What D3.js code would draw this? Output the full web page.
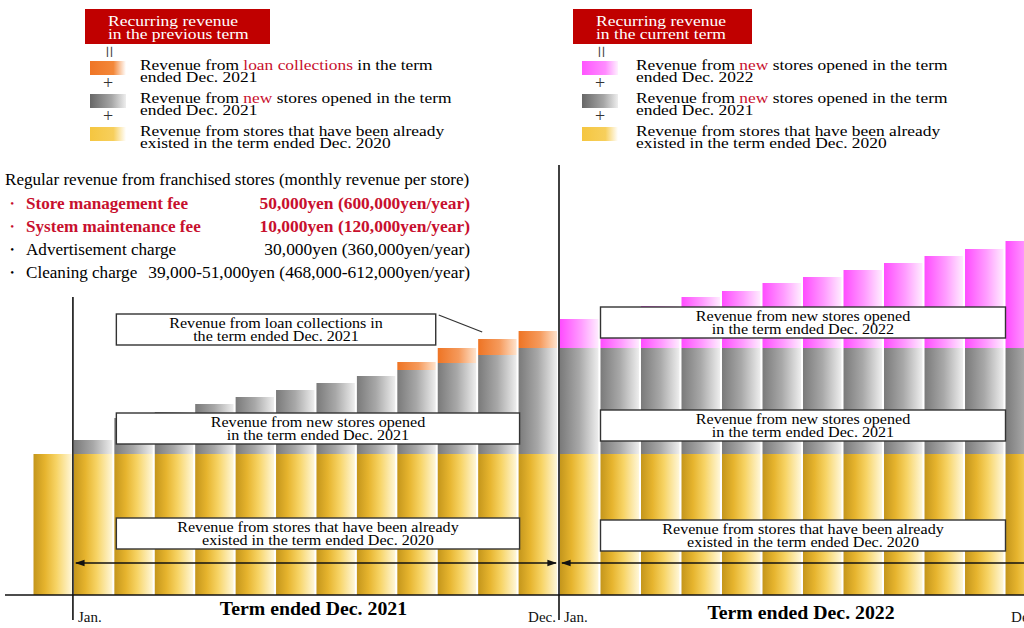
<!DOCTYPE html>
<html><head><meta charset="utf-8">
<script src="https://cdn.jsdelivr.net/npm/d3@7"></script>
<style>
html,body{margin:0;padding:0;background:#fff;}
svg text{font-family:"Liberation Serif","Times New Roman",serif;}
</style></head>
<body><svg id="chart" width="1024" height="628"></svg>
<script>
// ---------------- DATA (arbitrary revenue units) ----------------
const months = ["Jan.","Feb.","Mar.","Apr.","May","Jun.","Jul.","Aug.","Sep.","Oct.","Nov.","Dec."];
const prevLabel = "Dec. 2020";
const existingDec2020 = 141;
const existing2021 = [141,141,141,141,141,141,141,141,141,141,141,141];
const new2021 = [14,36,42,50,57,64,71,78,84,91,99,106];
const loan2021 = [0,0,0,0,0,0,0,0,8,15,16,17];
const existing2022 = [141,141,141,141,141,141,141,141,141,141,141,141];
const new2021in2022 = [106,106,106,106,106,106,106,106,106,106,106,106];
const new2022 = [29,36,42,51,57,65,71,78,85,92,99,107];
const tickLabels = ["Jan.","Dec."];
const termLabels = ["Term ended Dec. 2021","Term ended Dec. 2022"];
const feeNames = ["Store management fee","System maintenance fee","Advertisement charge","Cleaning charge"];
const feeValues = ["50,000yen (600,000yen/year)","10,000yen (120,000yen/year)","30,000yen (360,000yen/year)","39,000-51,000yen (468,000-612,000yen/year)"];
const feeBold = [true,true,false,false];

const svg = d3.select("#chart");
const defs = svg.append("defs");
function grad(id, stops){
  const g = defs.append("linearGradient").attr("id",id).attr("x1","0").attr("x2","1").attr("y1","0").attr("y2","0");
  stops.forEach(s=>g.append("stop").attr("offset",s[0]).attr("stop-color",s[1]));
}
grad("gYellow",[["0%","#c4961c"],["30%","#e6b42e"],["60%","#f7d466"],["100%","#fff7d8"]]);
grad("gGray",[["0%","#7a7a7a"],["50%","#a8a8a8"],["100%","#eeeeee"]]);
grad("gOrange",[["0%","#ee7424"],["55%","#f59a5c"],["100%","#ffe3cc"]]);
grad("gPink",[["0%","#ff4cff"],["55%","#ff9cff"],["100%","#ffecff"]]);
grad("sOrange",[["0%","#ef7526"],["65%","#f3883a"],["100%","#ffffff"]]);
grad("sGray",[["0%","#676767"],["60%","#a6a6a6"],["100%","#eeeeee"]]);
grad("sYellow",[["0%","#f5c640"],["65%","#f7cf5c"],["100%","#ffffff"]]);
grad("sPink",[["0%","#ff55ff"],["65%","#ff8cff"],["100%","#fff0ff"]]);

const colorOf = {existing:"url(#gYellow)", newPrev:"url(#gGray)", loan:"url(#gOrange)", newCur:"url(#gPink)"};

// text helper with horizontal stretch (reference font is wider than Times)
function txt(x, yy, str, o){
  o = o||{};
  const sx = o.sx||1.1;
  const t = svg.append("text")
    .attr("transform",`translate(${x},${yy}) scale(${sx},1)`)
    .attr("font-size",o.size||15)
    .attr("fill",o.fill||"#000")
    .attr("text-anchor",o.anchor||"start");
  if(o.bold) t.attr("font-weight","bold");
  if(Array.isArray(str)) str.forEach(p=>t.append("tspan").attr("fill",p[1]||o.fill||"#000").text(p[0]));
  else t.text(str);
  return t;
}

// ---------------- SCALES ----------------
const y = d3.scaleLinear().domain([0,360]).range([595,235]);
const x1 = d3.scaleBand().domain([prevLabel, ...months]).range([33.5,557]).paddingInner(0.05);
const x2 = d3.scaleBand().domain(months).range([560,1044]).paddingInner(0.05);

// ---------------- STACKED BARS ----------------
const rows1 = [{m:prevLabel, existing:existingDec2020, newPrev:0, loan:0}]
  .concat(months.map((m,i)=>({m, existing:existing2021[i], newPrev:new2021[i], loan:loan2021[i]})));
const rows2 = months.map((m,i)=>({m, existing:existing2022[i], newPrev:new2021in2022[i], newCur:new2022[i]}));

function drawStack(rows, keys, xs){
  const series = d3.stack().keys(keys)(rows);
  const g = svg.append("g");
  series.forEach(s=>{
    g.selectAll(null).data(s.filter(d=>d[1]-d[0]>0)).join("rect")
      .attr("x", d=>xs(d.data.m))
      .attr("width", xs.bandwidth())
      .attr("y", d=>y(d[1]))
      .attr("height", d=>y(d[0])-y(d[1]))
      .attr("fill", colorOf[s.key]);
  });
}
drawStack(rows1, ["existing","newPrev","loan"], x1);
drawStack(rows2, ["existing","newPrev","newCur"], x2);

// ---------------- AXES / DIVIDERS ----------------
svg.append("line").attr("x1",5).attr("x2",1024).attr("y1",y(0)).attr("y2",y(0))
  .attr("stroke","#111").attr("stroke-width",1.6);
const div1 = x1("Jan.")-1, div2 = x2("Jan.")-1;
svg.append("line").attr("x1",div1).attr("x2",div1).attr("y1",297).attr("y2",620).attr("stroke","#111").attr("stroke-width",1.6);
svg.append("line").attr("x1",div2).attr("x2",div2).attr("y1",165).attr("y2",620).attr("stroke","#111").attr("stroke-width",1.6);

function monthAxis(xs, decShift){
  const ax = svg.append("g").attr("transform",`translate(0,${y(0)})`)
    .call(d3.axisBottom(xs).tickValues(tickLabels).tickSize(0).tickPadding(0));
  ax.select(".domain").remove();
  ax.selectAll("text").attr("font-family","Liberation Serif, serif").attr("font-size",15).attr("fill","#111")
    .attr("dy",0).attr("y",27)
    .attr("text-anchor", d=> d==="Jan." ? "start":"end")
    .attr("x", d=> d==="Jan." ? -xs.bandwidth()/2+4 : xs.bandwidth()/2-1+decShift);
}
monthAxis(x1, 0);
monthAxis(x2, -4);

txt((x1("Jan.")+x1("Dec.")+x1.bandwidth())/2-2, 615, termLabels[0], {size:18, bold:true, anchor:"middle", sx:1.1});
txt((x2("Jan.")+x2("Dec.")+x2.bandwidth())/2-1, 619, termLabels[1], {size:18, bold:true, anchor:"middle", sx:1.1});

// arrows
const mk = defs.append("marker").attr("id","ah").attr("viewBox","0 0 10 10").attr("refX",9).attr("refY",5)
  .attr("markerWidth",6).attr("markerHeight",6).attr("orient","auto-start-reverse");
mk.append("path").attr("d","M0,1.5L10,5L0,8.5Z").attr("fill","#111");
svg.append("line").attr("x1",x1("Jan.")+2).attr("x2",x1("Dec.")+x1.bandwidth()-1).attr("y1",563).attr("y2",563)
  .attr("stroke","#111").attr("stroke-width",1.6).attr("marker-start","url(#ah)").attr("marker-end","url(#ah)");
svg.append("line").attr("x1",x2("Jan.")+2).attr("x2",x2("Dec.")+x2.bandwidth()).attr("y1",563).attr("y2",563)
  .attr("stroke","#111").attr("stroke-width",1.6).attr("marker-start","url(#ah)").attr("marker-end","url(#ah)");

// ---------------- ANNOTATION BOXES ----------------
function noteBox(xa, xb, yt, lines){
  svg.append("rect").attr("x",xa).attr("y",yt).attr("width",xb-xa).attr("height",31)
    .attr("fill","#fff").attr("stroke","#333").attr("stroke-width",1.4);
  lines.forEach((t,i)=>txt((xa+xb)/2, yt+13.5+i*13, t, {size:14, anchor:"middle", sx:1.15}));
}
const bL = x1("Feb.")+2, bR = x1("Nov.")+x1.bandwidth()+3;
noteBox(bL, x1("Sep.")+x1.bandwidth(), 314, ["Revenue from loan collections in","the term ended Dec. 2021"]);
svg.append("line").attr("x1",x1("Sep.")+x1.bandwidth()+3).attr("y1",315).attr("x2",x1("Nov.")+4).attr("y2",332)
  .attr("stroke","#333").attr("stroke-width",1.3);
noteBox(bL, bR, 413, ["Revenue from new stores opened","in the term ended Dec. 2021"]);
noteBox(bL, bR, 518, ["Revenue from stores that have been already","existed in the term ended Dec. 2020"]);
const cL = x2("Feb."), cR = x2("Nov.")+x2.bandwidth()+2;
noteBox(cL, cR, 307, ["Revenue from new stores opened","in the term ended Dec. 2022"]);
noteBox(cL, cR, 410, ["Revenue from new stores opened","in the term ended Dec. 2021"]);
noteBox(cL, cR, 520, ["Revenue from stores that have been already","existed in the term ended Dec. 2020"]);

// ---------------- LEGENDS ----------------
const red = "#c8102e";
function header(x0, w, l1, l2){
  svg.append("rect").attr("x",x0).attr("y",9).attr("width",w).attr("height",35).attr("fill","#c00000");
  txt(x0+23, 25.5, l1, {size:15, fill:"#fff", sx:1.17});
  txt(x0+23, 39, l2, {size:15, fill:"#fff", sx:1.17});
}
header(85,185,"Recurring revenue","in the previous term");
header(573,179,"Recurring revenue","in the current term");

function legend(sx, tx, items){
  svg.append("text").attr("x",sx+18).attr("y",58).attr("text-anchor","middle").attr("font-size",22)
    .attr("fill","#444").attr("transform",`rotate(90,${sx+18},52)`).text("=");
  items.forEach((it,i)=>{
    svg.append("rect").attr("x",sx).attr("y",it.y).attr("width",36).attr("height",14).attr("fill",it.fill);
    if(i<items.length-1) svg.append("text").attr("x",sx+18).attr("y",it.y+28).attr("text-anchor","middle")
      .attr("font-size",18).attr("fill","#333").text("+");
    txt(tx, it.y+9, it.parts1, {size:15, sx:1.16});
    txt(tx, it.y+21, it.line2, {size:15, sx:1.16});
  });
}
legend(90,140,[
  {fill:"url(#sOrange)", y:61, parts1:[["Revenue from "],["loan collections",red],[" in the term"]], line2:"ended Dec. 2021"},
  {fill:"url(#sGray)", y:94, parts1:[["Revenue from "],["new",red],[" stores opened in the term"]], line2:"ended Dec. 2021"},
  {fill:"url(#sYellow)", y:127, parts1:[["Revenue from stores that have been already"]], line2:"existed in the term ended Dec. 2020"}
]);
legend(582,636,[
  {fill:"url(#sPink)", y:61, parts1:[["Revenue from "],["new",red],[" stores opened in the term"]], line2:"ended Dec. 2022"},
  {fill:"url(#sGray)", y:94, parts1:[["Revenue from "],["new",red],[" stores opened in the term"]], line2:"ended Dec. 2021"},
  {fill:"url(#sYellow)", y:127, parts1:[["Revenue from stores that have been already"]], line2:"existed in the term ended Dec. 2020"}
]);

// ---------------- FEE TABLE ----------------
txt(5, 185, "Regular revenue from franchised stores (monthly revenue per store)", {size:16, sx:1.07});
feeNames.forEach((n,i)=>{
  const yy = 209 + i*23;
  const col = feeBold[i] ? red : "#000";
  svg.append("text").attr("x",4).attr("y",yy).attr("font-size",16).attr("fill",col).text("・");
  txt(26, yy, n, {size:16, bold:feeBold[i], fill:col, sx:1.07});
  txt(470, yy, feeValues[i], {size:16, bold:feeBold[i], fill:col, sx:1.09, anchor:"end"});
});
</script></body></html>
